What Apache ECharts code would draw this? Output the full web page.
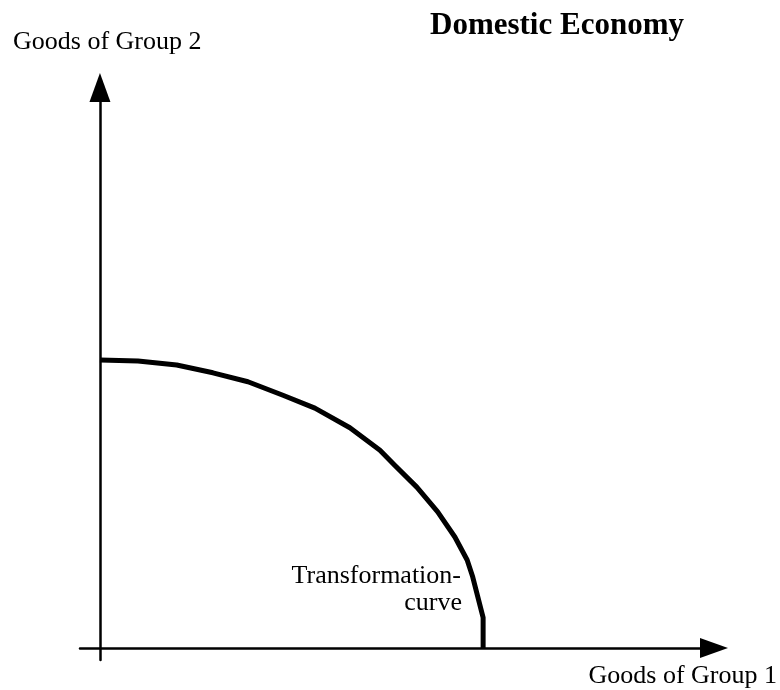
<!DOCTYPE html>
<html>
<head>
<meta charset="utf-8">
<script src="https://cdn.jsdelivr.net/npm/echarts@6/dist/echarts.min.js"></script>
<style>
html,body{margin:0;padding:0;background:#fff;}
#chart{width:780px;height:690px;}
</style>
</head>
<body>
<div id="chart"></div>
<script>
// Transformation curve (goods of group 1 on x, goods of group 2 on y)
const curveX = [0, 6.2, 12.5, 18.4, 24.1, 29.8, 35.0, 40.7, 45.6, 48.0, 51.6, 55.0, 57.8, 59.8, 60.7, 62.4, 62.4];
const curveY = [51.4, 51.2, 50.5, 49.1, 47.5, 45.1, 42.8, 39.3, 35.3, 32.6, 28.7, 24.3, 19.8, 15.7, 12.7, 5.4, 0];

const titleText = 'Domestic Economy';
const xAxisTitle = 'Goods of Group 1';
const yAxisTitle = 'Goods of Group 2';
const curveLabelLines = ['Transformation-', 'curve'];

const serif = '"Liberation Serif", "Times New Roman", Times, serif';

const chart = echarts.init(document.getElementById('chart'), null, {renderer: 'canvas'});

const curveData = curveX.map((x, i) => [x, curveY[i]]);

const axisCommon = {
  type: 'value',
  axisTick: {show: false},
  axisLabel: {show: false},
  splitLine: {show: false}
};

chart.setOption({
  backgroundColor: '#ffffff',
  animation: false,
  grid: {left: 80, right: 66, top: 87.5, bottom: 30},
  xAxis: Object.assign({}, axisCommon, {
    min: -3.25, max: 100,
    axisLine: {
      show: true, onZero: true,
      symbol: ['none', 'triangle'],
      symbolSize: [20, 28],
      lineStyle: {color: '#000', width: 2.5}
    }
  }),
  yAxis: Object.assign({}, axisCommon, {
    min: -2.14, max: 100,
    axisLine: {
      show: true, onZero: true,
      symbol: ['none', 'triangle'],
      symbolSize: [21, 29],
      lineStyle: {color: '#000', width: 2.5}
    }
  }),
  series: [{
    type: 'line',
    data: curveData,
    showSymbol: false,
    smooth: false,
    lineStyle: {color: '#000', width: 5, join: 'round'},
    z: 3
  }],
  graphic: [
    {type: 'text', left: 430, top: 10,
     style: {text: titleText, font: 'bold 31px ' + serif, fill: '#000'}},
    {type: 'text', left: 13, top: 29,
     style: {text: yAxisTitle, font: '26px ' + serif, fill: '#000'}},
    {type: 'text', right: 3, top: 663,
     style: {text: xAxisTitle, font: '26px ' + serif, fill: '#000'}},
    {type: 'text', right: 319, top: 563,
     style: {text: curveLabelLines[0], font: '26px ' + serif, fill: '#000'}},
    {type: 'text', right: 318, top: 590,
     style: {text: curveLabelLines[1], font: '26px ' + serif, fill: '#000'}}
  ]
});
</script>
</body>
</html>
